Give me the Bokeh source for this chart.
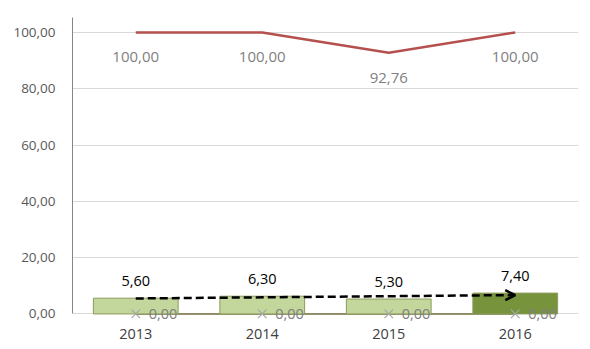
from bokeh.plotting import figure
from bokeh.models import (Range1d, FixedTicker, CustomJSTickFormatter, ColumnDataSource,
                          LabelSet, Arrow, OpenHead)
from bokeh.core.properties import value
from bokeh.embed import file_html
from bokeh.resources import INLINE

years = [2013, 2014, 2015, 2016]
year_labels = ["2013", "2014", "2015", "2016"]
bar_values = [5.60, 6.30, 5.30, 7.40]
bar_colors = ["#c3d69b", "#c3d69b", "#c3d69b", "#77933c"]
line_values = [100.00, 100.00, 92.76, 100.00]
zero_values = [0.00, 0.00, 0.00, 0.00]
trend_start = 5.5
trend_end = 6.7
y_ticks = [0, 20, 40, 60, 80, 100]

def fmt(v):
    return f"{v:.2f}".replace(".", ",")

FONT = "Open Sans"
Y_TOP = 105.3

p = figure(frame_width=506, frame_height=326, output_backend="svg", toolbar_location=None,
           x_range=Range1d(2012.5, 2016.5), y_range=Range1d(-10.5, Y_TOP),
           x_axis_location=None,
           min_border_left=72, min_border_right=4, min_border_top=17, min_border_bottom=2)
p.outline_line_color = None
p.background_fill_color = "white"
p.border_fill_color = "white"

# grid (the 0 gridline doubles as the category axis line)
for g in p.grid:
    if g.dimension == 0:
        g.grid_line_color = None
        g.visible = False
p.ygrid.grid_line_color = "#d9d9d9"
p.ygrid.grid_line_width = 1
p.ygrid.ticker = FixedTicker(ticks=y_ticks)

# y axis
p.yaxis.ticker = FixedTicker(ticks=y_ticks)
p.yaxis.formatter = CustomJSTickFormatter(code="return tick.toFixed(2).replace('.', ',');")
p.yaxis.bounds = (0, Y_TOP)
p.yaxis.axis_line_color = "#868686"
p.yaxis.major_tick_line_color = None
p.yaxis.minor_tick_line_color = None
p.yaxis.major_label_text_font = FONT
p.yaxis.major_label_text_font_size = "13.5px"
p.yaxis.major_label_text_color = "#595959"
p.yaxis.major_label_standoff = 11

src = ColumnDataSource(dict(
    x=years, year=year_labels, bar=bar_values, color=bar_colors, line=line_values,
    zero=zero_values,
    bar_lbl=[fmt(v) for v in bar_values],
    line_lbl=[fmt(v) for v in line_values],
    zero_lbl=[fmt(v) for v in zero_values],
))

# zero series line (behind bars)
p.line("x", "zero", source=src, line_color="#7a7040", line_width=1.5)

# bars
p.vbar(x="x", top="bar", width=0.67, source=src, fill_color="color",
       line_color="#8c9c5c", line_width=1)

# red line
p.line("x", "line", source=src, line_color="#b5504e", line_width=2.5)

# zero markers
p.scatter("x", "zero", source=src, marker="x", size=12, line_color="#a6a6a6", line_width=1.2)

# category labels
p.add_layout(LabelSet(x="x", y="zero", text="year", source=src, text_align="center",
                      text_baseline="middle", y_offset=-20, text_font=value(FONT),
                      text_font_size="14.5px", text_color="#404040"))

# data labels
p.add_layout(LabelSet(x="x", y="bar", text="bar_lbl", source=src, text_align="center",
                      text_baseline="middle", y_offset=17, text_font=value(FONT),
                      text_font_size="14.5px", text_color="#000000"))
p.add_layout(LabelSet(x="x", y="line", text="line_lbl", source=src, text_align="center",
                      text_baseline="middle", y_offset=-25, text_font=value(FONT),
                      text_font_size="15px", text_color="#7f7f7f"))
p.add_layout(LabelSet(x="x", y="zero", text="zero_lbl", source=src, text_align="left",
                      text_baseline="middle", x_offset=13, y_offset=0, text_font=value(FONT),
                      text_font_size="14.5px", text_color="#7f7f7f"))

# trend arrow
p.add_layout(Arrow(x_start=years[0], y_start=trend_start, x_end=years[-1], y_end=trend_end,
                   line_color="black", line_width=2.5, line_dash="8 4",
                   end=OpenHead(size=10, line_color="black", line_width=2.5)))

open("out.html", "w").write(file_html(p, INLINE))
